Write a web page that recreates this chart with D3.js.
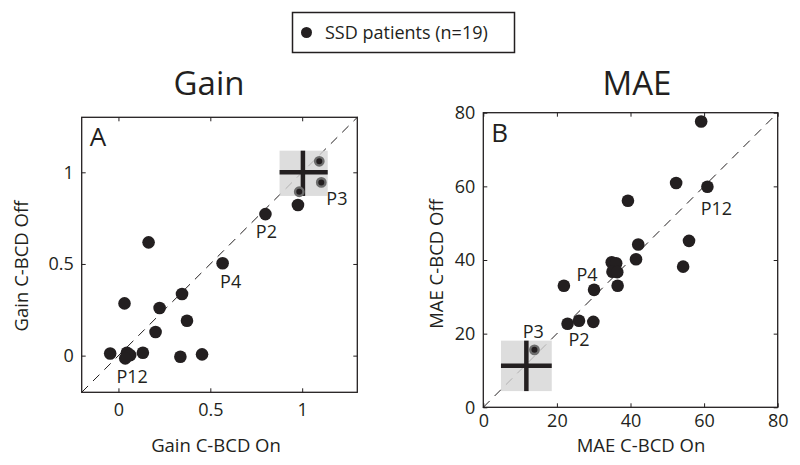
<!DOCTYPE html>
<html><head><meta charset="utf-8">
<script src="https://cdn.jsdelivr.net/npm/d3@7"></script>
<style>body{margin:0;background:#fff}svg{display:block}text{font-family:"Open Sans",sans-serif;fill:#231f20}</style>
</head><body>
<script>
// ---------- DATA ----------
const gainTicks = [0, 0.5, 1];
const gainTickLabels = ["0", "0.5", "1"];
const gainOn  = [0.164, 0.033, 0.346, 0.224, 0.373, 0.202, -0.045, 0.046, 0.064, 0.037, 0.133, 0.337, 0.455, 0.567, 0.800, 0.977];
const gainOff = [0.618, 0.285, 0.336, 0.260, 0.190, 0.129, 0.012, 0.016, 0.003, -0.015, 0.016, -0.006, 0.007, 0.504, 0.772, 0.822];
const gainP3On  = [0.984, 1.093, 1.104];
const gainP3Off = [0.894, 1.060, 0.945];
const gainP3Mean = [1.004, 1.000];
const gainP3RangeOn  = [0.877, 1.139];
const gainP3RangeOff = [0.871, 1.118];
const gainLabels = [{name:"P2", idx:14}, {name:"P4", idx:13}, {name:"P12", idx:8}];

const maeTicks = [0, 20, 40, 60, 80];
const maeTickLabels = ["0", "20", "40", "60", "80"];
const maeOn  = [59.2, 52.4, 60.9, 39.3, 55.9, 54.3, 42.1, 41.5, 34.9, 36.1, 35.1, 36.4, 36.5, 21.9, 30.1, 22.9, 26.0, 29.9];
const maeOff = [77.6, 60.9, 59.9, 56.1, 45.2, 38.2, 44.2, 40.2, 39.4, 39.1, 36.8, 36.7, 33.0, 33.0, 31.9, 22.7, 23.5, 23.2];
const maeP3On  = [13.9];
const maeP3Off = [15.6];
const maeP3Mean = [11.7, 11.3];
const maeP3RangeOn  = [4.8, 18.6];
const maeP3RangeOff = [4.4, 18.1];
const maeLabels = [{name:"P2", idx:16}, {name:"P4", idx:14}, {name:"P12", idx:2}];

const legendText = "SSD patients (n=19)";

// ---------- DRAW ----------
const W = 800, H = 465;
const svg = d3.select("body").append("svg").attr("width", W).attr("height", H);

// legend
const lg = svg.append("g");
lg.append("rect").attr("x", 292.5).attr("y", 12.5).attr("width", 222).attr("height", 40)
  .attr("fill", "#fff").attr("stroke", "#231f20").attr("stroke-width", 1.5);
lg.append("circle").attr("cx", 306.5).attr("cy", 32.5).attr("r", 5.5).attr("fill", "#231f20");
lg.append("text").attr("x", 325).attr("y", 38.5).attr("font-size", 18).text(legendText);

function panel(cfg) {
  const g = svg.append("g");
  const x = d3.scaleLinear().domain(cfg.domain).range([cfg.x0, cfg.x1]);
  const y = d3.scaleLinear().domain(cfg.domain).range([cfg.y1, cfg.y0]);

  // title
  g.append("text").attr("x", cfg.titleX).attr("y", 95).attr("text-anchor", "middle")
    .attr("font-size", 33).text(cfg.title);

  // diagonal
  g.append("line").attr("x1", x(cfg.domain[0])).attr("y1", y(cfg.domain[0]))
    .attr("x2", x(cfg.domain[1])).attr("y2", y(cfg.domain[1]))
    .attr("stroke", "#231f20").attr("stroke-width", 1).attr("stroke-dasharray", "9,7");

  // P3 gray box
  g.append("rect").attr("x", x(cfg.p3On[0])).attr("y", y(cfg.p3Off[1]))
    .attr("width", x(cfg.p3On[1]) - x(cfg.p3On[0])).attr("height", y(cfg.p3Off[0]) - y(cfg.p3Off[1]))
    .attr("fill", "#d4d4d4").attr("opacity", 0.8);

  // black points
  g.selectAll(".pt").data(cfg.on.map((v, i) => [v, cfg.off[i]])).join("circle")
    .attr("cx", d => x(d[0])).attr("cy", d => y(d[1])).attr("r", 6.3).attr("fill", "#231f20");

  // P3 cross
  g.append("line").attr("x1", x(cfg.p3On[0])).attr("x2", x(cfg.p3On[1]))
    .attr("y1", y(cfg.mean[1])).attr("y2", y(cfg.mean[1])).attr("stroke", "#231f20").attr("stroke-width", 4.5);
  g.append("line").attr("x1", x(cfg.mean[0])).attr("x2", x(cfg.mean[0]))
    .attr("y1", y(cfg.p3Off[0])).attr("y2", y(cfg.p3Off[1])).attr("stroke", "#231f20").attr("stroke-width", 4.5);

  // P3 individual points
  g.selectAll(".p3").data(cfg.p3pOn.map((v, i) => [v, cfg.p3pOff[i]])).join("circle")
    .attr("cx", d => x(d[0])).attr("cy", d => y(d[1])).attr("r", 4.2)
    .attr("fill", "#231f20").attr("stroke", "#6d6d6d").attr("stroke-width", 2.4);

  // labels
  cfg.labels.forEach((l, i) => {
    const o = cfg.labelOffsets[i];
    g.append("text").attr("x", x(cfg.on[l.idx]) + o[0]).attr("y", y(cfg.off[l.idx]) + o[1])
      .attr("text-anchor", "middle").attr("font-size", 18).text(l.name);
  });
  g.append("text").attr("x", x(cfg.mean[0]) + cfg.p3Offset[0]).attr("y", y(cfg.mean[1]) + cfg.p3Offset[1])
    .attr("text-anchor", "middle").attr("font-size", 18).text("P3");

  // frame
  g.append("rect").attr("x", cfg.x0).attr("y", cfg.y0).attr("width", cfg.x1 - cfg.x0).attr("height", cfg.y1 - cfg.y0)
    .attr("fill", "none").attr("stroke", "#231f20").attr("stroke-width", 1.3);

  // axes (ticks inward, all four sides)
  const tk = 4;
  const fmtX = d => cfg.tickLabels[cfg.ticks.indexOf(d)];
  const ax = d3.axisBottom(x).tickValues(cfg.ticks).tickSize(-tk).tickPadding(cfg.xPad).tickFormat(fmtX);
  const axT = d3.axisTop(x).tickValues(cfg.ticks).tickSize(-tk).tickFormat("");
  const ay = d3.axisLeft(y).tickValues(cfg.ticks).tickSize(-tk).tickPadding(cfg.yPad).tickFormat(fmtX);
  const ayR = d3.axisRight(y).tickValues(cfg.ticks).tickSize(-tk).tickFormat("");
  [[ax, `translate(0,${cfg.y1})`], [axT, `translate(0,${cfg.y0})`], [ay, `translate(${cfg.x0},0)`], [ayR, `translate(${cfg.x1},0)`]]
    .forEach(([a, t]) => {
      const ag = g.append("g").attr("transform", t).call(a);
      ag.select(".domain").remove();
      ag.selectAll("line").attr("stroke", "#231f20").attr("stroke-width", 1);
      ag.selectAll("text").attr("font-size", 18).attr("font-family", "Open Sans").attr("fill", "#231f20");
    });

  // axis titles
  g.append("text").attr("x", cfg.xLabelX).attr("y", 452).attr("text-anchor", "middle").attr("font-size", 18.5).text(cfg.xLabel);
  g.append("text").attr("transform", `translate(${cfg.yLabelX},${cfg.yLabelY}) rotate(-90)`)
    .attr("text-anchor", "middle").attr("font-size", 18.5).text(cfg.yLabel);

  // panel letter
  g.append("text").attr("x", cfg.x0 + 8).attr("y", cfg.y0 + 29).attr("font-size", 26).text(cfg.letter);
}

panel({
  domain: [-0.2, 1.3], x0: 81.7, x1: 357.3, y0: 117.3, y1: 392.3,
  on: gainOn, off: gainOff, p3pOn: gainP3On, p3pOff: gainP3Off, mean: gainP3Mean,
  p3On: gainP3RangeOn, p3Off: gainP3RangeOff, ticks: gainTicks, tickLabels: gainTickLabels,
  labels: gainLabels, labelOffsets: [[1, 24], [8, 25], [2, 28]], p3Offset: [34, 33],
  title: "Gain", titleX: 209, letter: "A", yPad: 8, xPad: 11,
  xLabel: "Gain C-BCD On", xLabelX: 216, yLabel: "Gain C-BCD Off", yLabelX: 28, yLabelY: 266
});
panel({
  domain: [0, 80], x0: 483.3, x1: 777.7, y0: 112.7, y1: 407.3,
  on: maeOn, off: maeOff, p3pOn: maeP3On, p3pOff: maeP3Off, mean: maeP3Mean,
  p3On: maeP3RangeOn, p3Off: maeP3RangeOff, ticks: maeTicks, tickLabels: maeTickLabels,
  labels: maeLabels, labelOffsets: [[0, 25], [-7, -9], [9, 28]], p3Offset: [7, -28],
  title: "MAE", titleX: 637, letter: "B", yPad: 8, xPad: 7,
  xLabel: "MAE C-BCD On", xLabelX: 641, yLabel: "MAE C-BCD Off", yLabelX: 443, yLabelY: 264
});
</script>
</body></html>
